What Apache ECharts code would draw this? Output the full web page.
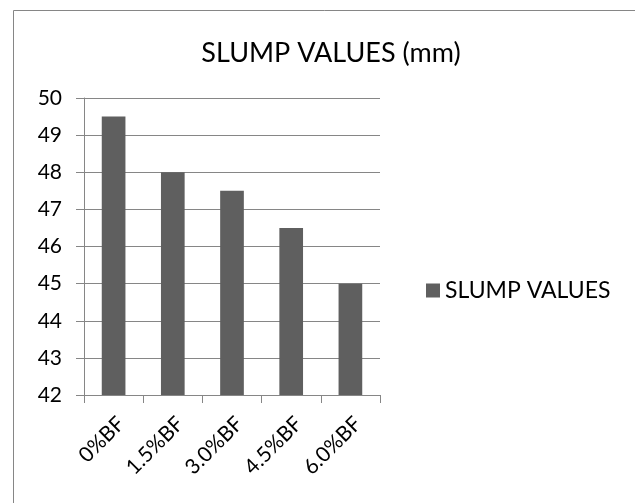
<!DOCTYPE html>
<html>
<head>
<meta charset="utf-8">
<script src="https://cdn.jsdelivr.net/npm/echarts@6/dist/echarts.min.js"></script>
<style>
  html, body { margin: 0; padding: 0; background: #ffffff; }
  #chart { width: 635px; height: 503px; }
</style>
</head>
<body>
<div id="chart"></div>
<script>
// Slump test results by basalt fibre content
const categories = ['0%BF', '1.5%BF', '3.0%BF', '4.5%BF', '6.0%BF'];
const slumpValues = [49.5, 48, 47.5, 46.5, 45];
const seriesName = 'SLUMP VALUES';
const titleText = 'SLUMP VALUES (mm)';

const FONT = 'Lato, "Open Sans", sans-serif';
const GRID_COLOR = '#868686';

const chart = echarts.init(document.getElementById('chart'), null, { renderer: 'canvas' });

chart.setOption({
  backgroundColor: '#ffffff',
  animation: false,
  // chart-area frame; its right and bottom edges run past the canvas
  graphic: [{
    type: 'rect',
    shape: { x: 13.5, y: 10.5, width: 700, height: 600 },
    style: { fill: 'none', stroke: '#868686', lineWidth: 1 },
    silent: true
  }],
  title: {
    text: titleText,
    left: 326,
    textAlign: 'center',
    top: 35,
    textStyle: { fontFamily: FONT, fontSize: 27, fontWeight: 'normal', color: '#000000' }
  },
  legend: {
    data: [seriesName],
    left: 421,
    top: 274,
    icon: 'rect',
    itemWidth: 14,
    itemHeight: 14,
    itemGap: 4,
    textStyle: { fontFamily: FONT, fontSize: 23, color: '#000000', padding: [0, 0, 0, 0] }
  },
  grid: { left: 84, top: 98, right: 255, bottom: 108, containLabel: false },
  xAxis: {
    type: 'category',
    data: categories,
    boundaryGap: true,
    axisLine: { show: true, lineStyle: { color: GRID_COLOR, width: 1 } },
    axisTick: { show: true, alignWithLabel: false, length: 8, lineStyle: { color: GRID_COLOR } },
    axisLabel: {
      rotate: 45,
      interval: 0,
      margin: 18,
      align: 'right',
      verticalAlign: 'top',
      fontFamily: FONT,
      fontSize: 21,
      color: '#000000'
    },
    splitLine: { show: false }
  },
  yAxis: {
    type: 'value',
    min: 42,
    max: 50,
    interval: 1,
    axisLine: { show: true, lineStyle: { color: GRID_COLOR, width: 1 } },
    axisTick: { show: true, length: 8, lineStyle: { color: GRID_COLOR } },
    axisLabel: { fontFamily: FONT, fontSize: 21, color: '#000000', margin: 22 },
    splitLine: { show: true, lineStyle: { color: GRID_COLOR, width: 1 } }
  },
  series: [{
    name: seriesName,
    type: 'bar',
    data: slumpValues,
    barWidth: '40%',
    itemStyle: { color: '#5f5f5f' }
  }]
});
</script>
</body>
</html>
